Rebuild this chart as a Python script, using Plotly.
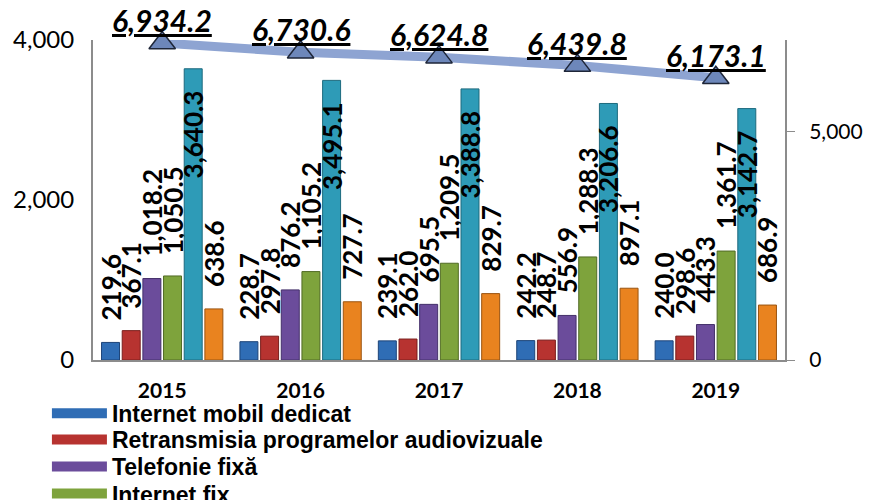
import plotly.graph_objects as go

years = ["2015", "2016", "2017", "2018", "2019"]
series_names = [
    "Internet mobil dedicat",
    "Retransmisia programelor audiovizuale",
    "Telefonie fixă",
    "Internet fix",
    "Telefonie mobilă",
    "Alte servicii",
]
internet_mobil = [219.6, 228.7, 239.1, 242.2, 240.0]
retransmisia = [367.1, 297.8, 262.0, 248.7, 298.6]
telefonie_fixa = [1018.2, 876.2, 695.5, 556.9, 443.3]
internet_fix = [1050.5, 1105.2, 1209.5, 1288.3, 1361.7]
telefonie_mobila = [3640.3, 3495.1, 3388.8, 3206.6, 3142.7]
alte_servicii = [638.6, 727.7, 829.7, 897.1, 686.9]
total = [6934.2, 6730.6, 6624.8, 6439.8, 6173.1]

series_values = [internet_mobil, retransmisia, telefonie_fixa, internet_fix, telefonie_mobila, alte_servicii]
colors = ["#2F6DB5", "#B73330", "#6B4C9B", "#7EA33C", "#2E9BB7", "#E9831F"]
outlines = ["#1D4478", "#7A1F1D", "#44306A", "#516B25", "#1D6A7E", "#9A5410"]

# legend rows visible in the reference (the rest is cut off by the image edge)
legend_ids = ["legend", "legend2", "legend3", "legend4"]
legend_rows_y = [0.176, 0.123, 0.068, 0.013]

lbl_font = dict(family="Lato", size=26, color="black", weight="bold")
NB = "\u00a0"

fig = go.Figure()
for i, (name, vals, col, oc) in enumerate(zip(series_names, series_values, colors, outlines)):
    inside = name == "Telefonie mobilă"
    fig.add_trace(go.Bar(
        x=years, y=vals, name=name,
        marker=dict(color=col, line=dict(color=oc, width=1)),
        texttemplate=("%{y:,.1f}" + NB * 3) if inside else (NB * 3 + "%{y:,.1f}"),
        textposition="inside" if inside else "outside",
        insidetextanchor="end",
        textangle=-90,
        constraintext="none",
        cliponaxis=False,
        textfont=lbl_font,
        insidetextfont=lbl_font,
        outsidetextfont=lbl_font,
        showlegend=False,
    ))
    if i < len(legend_ids):
        fig.add_trace(go.Scatter(
            x=[None], y=[None], mode="lines", name=name,
            line=dict(color=col, width=12),
            legend=legend_ids[i], showlegend=True, hoverinfo="skip",
        ))

fig.add_trace(go.Scatter(
    x=years, y=total, name="Total", yaxis="y2",
    mode="lines+markers",
    line=dict(color="#8EA4D2", width=9),
    marker=dict(symbol="triangle-up", size=23, color="#6D87BA",
                line=dict(color="#1E2638", width=1.5)),
    cliponaxis=False,
    showlegend=False,
))

# value labels of the total line: annotations at each category position (index on the category axis)
for idx, v in enumerate(total):
    fig.add_annotation(
        x=idx, y=v, xref="x", yref="y2", showarrow=False, yshift=23,
        text=f"<u><i><b>{v:,.1f}</b></i></u>",
        font=dict(family="Lato", size=30, color="black"),
    )

legend_style = dict(
    xref="container", yref="container", x=0.045, xanchor="left", yanchor="middle",
    font=dict(family="Liberation Sans", size=23, color="black", weight="bold"),
    bgcolor="rgba(0,0,0,0)", itemwidth=55,
)

fig.update_layout(
    width=865, height=492,
    margin=dict(l=85, r=88, t=32, b=140, autoexpand=False),
    paper_bgcolor="white", plot_bgcolor="white",
    barmode="group", bargap=0.104, bargroupgap=0.13,
    font=dict(family="Lato", color="black"),
    xaxis=dict(
        type="category", categoryorder="array", categoryarray=years,
        range=[-0.5, len(years) - 0.5],
        showline=True, linecolor="#8C8C8C", linewidth=2,
        showgrid=False, ticks="", ticklabelstandoff=11,
        tickfont=dict(family="Lato", size=21, weight="bold", color="black"),
    ),
    yaxis=dict(
        range=[0, 4000], tickvals=[0, 2000, 4000], tickformat=",",
        showline=True, linecolor="#8C8C8C", linewidth=2,
        showgrid=False, zeroline=False, ticks="", ticklabelstandoff=12,
        tickfont=dict(family="Lato", size=24, color="black"),
    ),
    yaxis2=dict(
        overlaying="y", side="right", range=[0, 7000], tickvals=[0, 5000], tickformat=",",
        showline=True, linecolor="#8C8C8C", linewidth=2,
        showgrid=False, zeroline=False, ticks="outside", ticklen=8, tickcolor="#8C8C8C",
        ticklabelstandoff=10,
        tickfont=dict(family="Lato", size=21, color="black"),
    ),
)
for lid, ly in zip(legend_ids, legend_rows_y):
    fig.update_layout({lid: dict(legend_style, y=ly)})

fig.write_html("out.html")
